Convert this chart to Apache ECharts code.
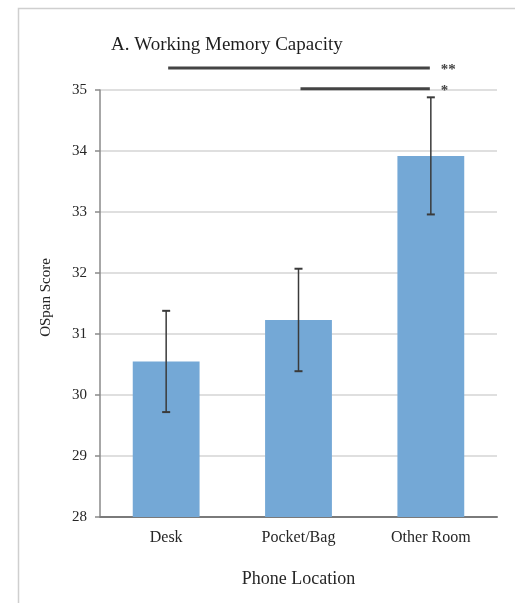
<!DOCTYPE html>
<html>
<head>
<meta charset="utf-8">
<script src="https://cdn.jsdelivr.net/npm/echarts@6/dist/echarts.min.js"></script>
<style>
html,body{margin:0;padding:0;background:#fff;}
#chart{width:515px;height:603px;}
</style>
</head>
<body>
<div id="chart"></div>
<script>
var categories = ['Desk', 'Pocket/Bag', 'Other Room'];
var means = [30.55, 31.23, 33.92];
var errors = [0.83, 0.84, 0.96];
var yTicks = [28, 29, 30, 31, 32, 33, 34, 35];
var sigStart = [0, 1];
var sigEnd = [2, 2];
var sigLevel = [35.36, 35.02];
var sigLabels = ['**', '*'];

var serif = '"Liberation Serif", "Times New Roman", "DejaVu Serif", serif';

var errData = categories.map(function (c, i) { return [i, means[i] - errors[i], means[i] + errors[i]]; });
var sigData = sigStart.map(function (s, i) { return [s, sigEnd[i], sigLevel[i], sigLabels[i]]; });

var chart = echarts.init(document.getElementById('chart'));
chart.setOption({
  animation: false,
  backgroundColor: '#fff',
  graphic: [{
    type: 'rect', silent: true, z: -10,
    shape: { x: 18.5, y: 8.5, width: 700, height: 700 },
    style: { fill: 'none', stroke: '#cfcfcf', lineWidth: 1.5 }
  }],
  title: {
    text: 'A. Working Memory Capacity',
    left: 106, top: 31,
    textStyle: { fontFamily: serif, fontSize: 19, fontWeight: 'normal', color: '#1e1e1e' }
  },
  grid: { left: 100, right: 18, top: 90, bottom: 86 },
  xAxis: {
    type: 'category',
    data: categories,
    axisTick: { show: false },
    axisLine: { lineStyle: { color: '#7a7a7a', width: 2 } },
    axisLabel: { fontFamily: serif, fontSize: 16, color: '#262626', margin: 13 },
    name: 'Phone Location',
    nameLocation: 'middle',
    nameGap: 53,
    nameTextStyle: { fontFamily: serif, fontSize: 18, color: '#262626' }
  },
  yAxis: {
    type: 'value',
    min: yTicks[0], max: yTicks[yTicks.length - 1], interval: 1,
    axisLine: { show: true, lineStyle: { color: '#8a8a8a', width: 1.5 } },
    axisTick: { show: true, length: 5, lineStyle: { color: '#8a8a8a', width: 1.5 } },
    splitLine: { lineStyle: { color: '#d4d4d4', width: 1.5 } },
    axisLabel: { fontFamily: serif, fontSize: 15, color: '#262626', margin: 13 },
    name: 'OSpan Score',
    nameLocation: 'middle',
    nameGap: 46,
    nameTextStyle: { fontFamily: serif, fontSize: 15, color: '#262626', padding: [0, 0, 0, 12] }
  },
  series: [{
    type: 'bar',
    data: means,
    barWidth: '50.5%',
    itemStyle: { color: '#74a8d6' },
    z: 2
  }, {
    type: 'custom',
    data: errData,
    z: 5,
    renderItem: function (params, api) {
      var x = api.value(0);
      var lo = api.coord([x, api.value(1)]);
      var hi = api.coord([x, api.value(2)]);
      var cap = 4;
      var st = { stroke: '#3a3a3a', lineWidth: 1.5 };
      return {
        type: 'group',
        children: [
          { type: 'line', shape: { x1: lo[0], y1: lo[1], x2: hi[0], y2: hi[1] }, style: st },
          { type: 'line', shape: { x1: lo[0] - cap, y1: lo[1], x2: lo[0] + cap, y2: lo[1] }, style: { stroke: '#3a3a3a', lineWidth: 2 } },
          { type: 'line', shape: { x1: hi[0] - cap, y1: hi[1], x2: hi[0] + cap, y2: hi[1] }, style: { stroke: '#3a3a3a', lineWidth: 2 } }
        ]
      };
    }
  }, {
    type: 'custom',
    data: sigData,
    clip: false,
    z: 6,
    renderItem: function (params, api) {
      var a = api.coord([api.value(0), api.value(2)]);
      var b = api.coord([api.value(1), api.value(2)]);
      var label = sigData[params.dataIndex][3];
      return {
        type: 'group',
        children: [
          { type: 'line', shape: { x1: a[0] + 2, y1: a[1], x2: b[0] - 1, y2: b[1] }, style: { stroke: '#444', lineWidth: 3 } },
          { type: 'text', x: b[0] + 10, y: b[1] + 2, style: { text: label, fill: '#444', font: 'bold 15px ' + serif, textAlign: 'left', textVerticalAlign: 'middle' } }
        ]
      };
    }
  }]
});
</script>
</body>
</html>
